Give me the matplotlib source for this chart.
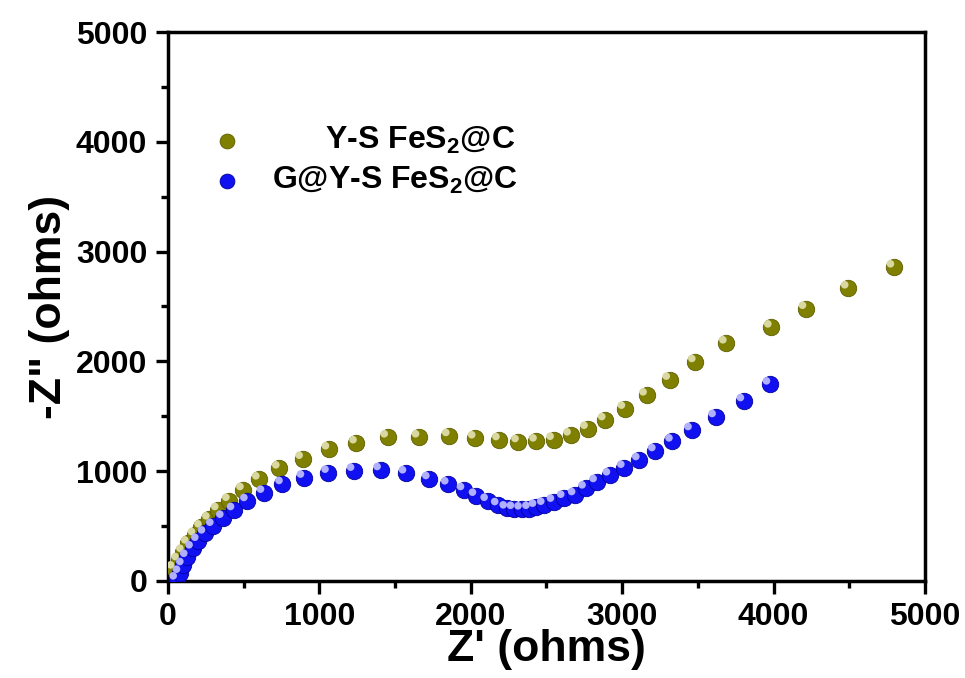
import matplotlib
matplotlib.use("Agg")
import matplotlib.pyplot as plt
import matplotlib.transforms as mtransforms
import numpy as np

# Y-S FeS2@C
ys_x = [40, 70, 101, 134, 178, 221, 273, 332, 405, 498, 603, 735, 889, 1063,
        1245, 1451, 1658, 1858, 2029, 2189, 2315, 2434, 2547, 2659, 2771,
        2888, 3018, 3161, 3314, 3483, 3688, 3985, 4214, 4493, 4795]
ys_y = [115, 191, 267, 343, 419, 489, 562, 647, 731, 829, 926, 1026, 1114, 1200,
        1255, 1309, 1309, 1321, 1300, 1284, 1266, 1272, 1287, 1327, 1387,
        1466, 1570, 1691, 1834, 1995, 2165, 2310, 2480, 2666, 2857]

# G@Y-S FeS2@C
g_x = [57, 79, 101, 127, 162, 200, 244, 299, 365, 436, 524, 634, 756, 898,
       1060, 1229, 1404, 1572, 1726, 1851, 1955, 2034, 2111, 2181, 2237,
       2285, 2335, 2387, 2431, 2485, 2549, 2617, 2689, 2758, 2831, 2919,
       3014, 3113, 3219, 3332, 3458, 3617, 3804, 3976]
g_y = [15, 76, 146, 221, 298, 367, 434, 504, 577, 647, 729, 805, 884, 942,
       987, 1005, 1011, 981, 929, 881, 829, 777, 731, 692, 662,
       658, 653, 658, 677, 695, 723, 759, 783, 844, 902, 963,
       1032, 1102, 1184, 1272, 1375, 1494, 1639, 1791]

labels = ['      Y-S FeS$_\\mathregular{2}$@C', 'G@Y-S FeS$_\\mathregular{2}$@C']
olive = '#7f7f00'
blue = '#1010f0'

plt.rcParams['font.family'] = ['Liberation Sans', 'DejaVu Sans']
plt.rcParams['font.weight'] = 'bold'
plt.rcParams['mathtext.default'] = 'regular'

fig = plt.figure(figsize=(9.65, 6.78), dpi=100)
ax = fig.add_axes([0.1741, 0.1431, 0.7844, 0.8097])

hl = mtransforms.offset_copy(ax.transData, fig=fig, x=-2.5, y=2.5, units='points')

h1 = ax.scatter(ys_x, ys_y, s=140, c=olive, edgecolors='#5e5e00', linewidths=0.6, zorder=3)
ax.scatter(ys_x, ys_y, s=30, c='#d8d8a0', edgecolors='none', transform=hl, zorder=4)
h2 = ax.scatter(g_x, g_y, s=140, c=blue, edgecolors='#0000a0', linewidths=0.6, zorder=5)
ax.scatter(g_x, g_y, s=30, c='#b0b0ff', edgecolors='none', transform=hl, zorder=6)

leg = ax.legend([h1, h2], labels, loc='upper left', bbox_to_anchor=(0.036, 0.83),
                borderaxespad=0, borderpad=0, frameon=False, fontsize=23,
                markerscale=0.9, handletextpad=0.4, labelspacing=0.28,
                scatterpoints=1)

ax.set_xlim(0, 5000)
ax.set_ylim(0, 5000)
ax.set_xticks(np.arange(0, 5001, 1000))
ax.set_yticks(np.arange(0, 5001, 1000))
ax.set_xticks(np.arange(500, 5000, 1000), minor=True)
ax.set_yticks(np.arange(500, 5000, 1000), minor=True)
ax.tick_params(which='major', direction='out', length=9, width=2.4, labelsize=23, pad=6)
ax.tick_params(which='minor', direction='out', length=5, width=2.4)
for sp in ax.spines.values():
    sp.set_linewidth(2.5)

ax.set_xlabel("Z' (ohms)", fontsize=32, fontweight='bold', labelpad=-2)
ax.set_ylabel('-Z" (ohms)', fontsize=32, fontweight='bold', labelpad=4)

fig.savefig('out.png', dpi=100)
